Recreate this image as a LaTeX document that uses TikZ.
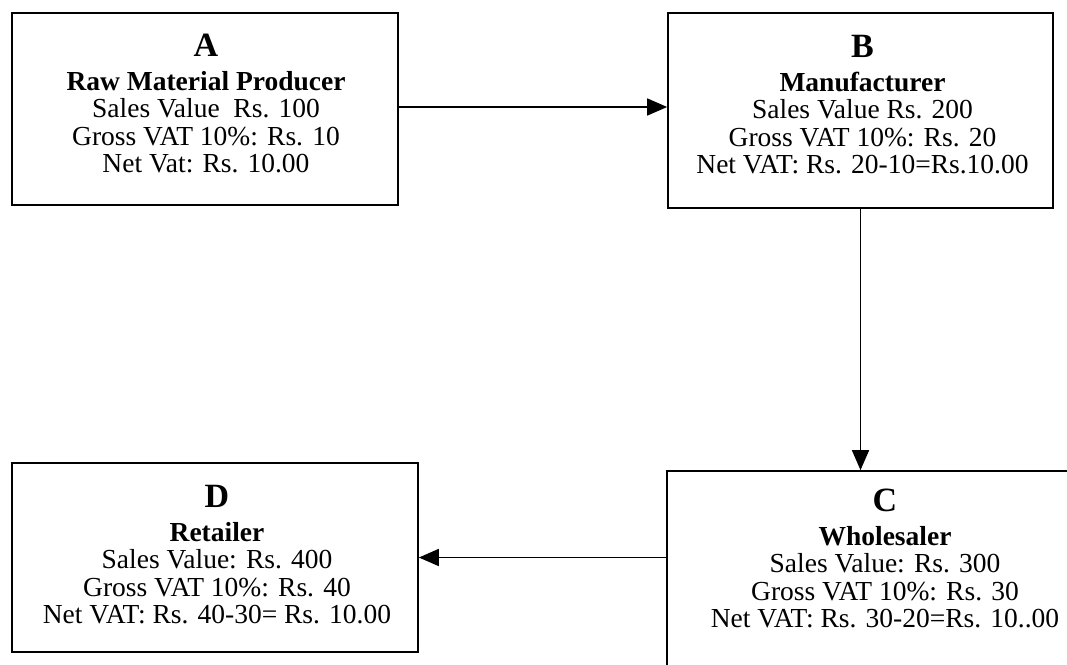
\documentclass[tikz,border=0pt]{standalone}
\usepackage{fontspec}
\setmainfont{Liberation Serif}
\usetikzlibrary{arrows.meta,calc}
\begin{document}
\begin{tikzpicture}[x=1pt,y=-1pt,
  box/.style={draw, line width=1.7pt, inner sep=0pt},
  txt/.style={align=center, inner sep=0pt, anchor=north, font=\fontsize{27.5}{27.5}\selectfont},
  arr/.style={line width=1.6pt, -{Triangle[length=20pt,width=17pt]}}]
\useasboundingbox (0,0) rectangle (1067,664);
\fill[white] (0,0) rectangle (1067,664);
\newcommand{\ttl}[1]{{\fontsize{34}{34}\selectfont\bfseries #1}\\[6pt]}
% boxes
\node[box, minimum width=386pt, minimum height=192pt] (A) at (205,109) {};
\node[box, minimum width=385pt, minimum height=195pt] (B) at (860.5,110.5) {};
\node[box, minimum width=436pt, minimum height=219pt] (C) at (885,580.5) {};
\node[box, minimum width=406pt, minimum height=189pt] (D) at (215,557.5) {};
% texts
\node[txt] (tA) at ($(A.north)+(1,22)$) {\ttl{A}\textbf{Raw Material Producer}\\Sales Value\ \ Rs. 100\\Gross VAT 10\%: Rs. 10\\Net Vat: Rs. 10.00};
\node[txt] (tB) at ($(B.north)+(2,23)$) {\ttl{B}\textbf{Manufacturer}\\Sales Value Rs. 200\\Gross VAT 10\%: Rs. 20\\Net VAT: Rs. 20-10=Rs.10.00};
\node[txt] (tC) at ($(C.north)+(0,19)$) {\ttl{C}\textbf{Wholesaler}\\Sales Value: Rs. 300\\Gross VAT 10\%: Rs. 30\\Net VAT: Rs. 30-20=Rs. 10..00};
\node[txt] (tD) at ($(D.north)+(2,23)$) {\ttl{D}\textbf{Retailer}\\Sales Value: Rs. 400\\Gross VAT 10\%: Rs. 40\\Net VAT: Rs. 40-30= Rs. 10.00};
% connectors
\draw[arr] ($(A.east)+(0,-2)$) -- ($(A.east -| B.west)+(0,-2)$);
\draw[arr] (B.south) -- (B.south |- C.north);
\draw[arr] (D.east -| C.west) -- (D.east);
\end{tikzpicture}
\end{document}
